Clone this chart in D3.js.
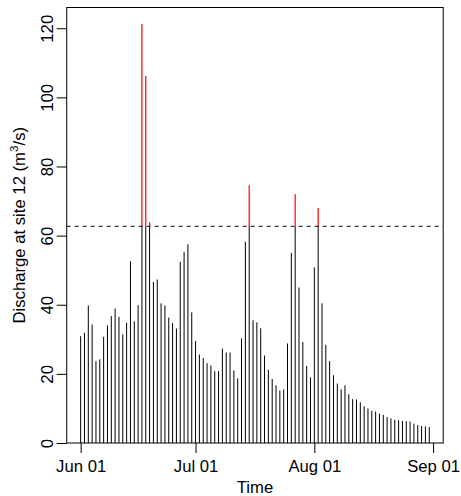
<!DOCTYPE html>
<html>
<head>
<meta charset="utf-8">
<script src="https://cdn.jsdelivr.net/npm/d3@7"></script>
<style>
  html, body { margin: 0; padding: 0; background: #fff; }
  text { font-family: "Liberation Sans", Arial, sans-serif; fill: #000; }
</style>
</head>
<body>
<svg id="chart" width="461" height="496"></svg>
<script>
// Daily discharge Jun 01 .. Aug 31
const startDate = "2000-06-01";
const juneValues = [30.9, 31.9, 39.8, 34.3, 23.7, 24.2, 30.7, 34.0, 36.7, 38.9,
                    36.5, 31.4, 34.8, 52.6, 35.2, 39.9, 121.2, 106.2, 63.9, 46.6,
                    47.3, 40.4, 39.8, 36.3, 34.7, 33.1, 52.4, 55.3, 57.5, 37.8];
const julyValues = [29.5, 25.6, 24.6, 23.1, 22.4, 20.8, 20.8, 27.3, 26.2, 26.2,
                    21.0, 18.7, 30.3, 58.2, 74.6, 35.5, 34.9, 33.2, 25.3, 21.2,
                    18.5, 16.7, 15.2, 15.5, 28.8, 55.0, 72.0, 45.0, 29.2, 22.3, 19.0];
const augustValues = [50.8, 68.0, 40.4, 28.4, 23.7, 19.6, 17.2, 15.5, 16.7, 14.1,
                      12.7, 12.6, 11.8, 10.6, 10.0, 9.3, 9.1, 8.5, 8.1, 7.5,
                      7.1, 6.7, 6.6, 6.4, 6.3, 6.2, 5.6, 5.2, 4.9, 4.8, 4.6];
const threshold = 62.7;
const yTicks = [0, 20, 40, 60, 80, 100, 120];
const xTickDates = ["2000-06-01", "2000-07-01", "2000-08-01", "2000-09-01"];
const xTickLabels = ["Jun 01", "Jul 01", "Aug 01", "Sep 01"];
const yMax = 126;

(function () {
const parse = d3.utcParse("%Y-%m-%d");
const values = juneValues.concat(julyValues, augustValues);
const t0 = parse(startDate);
const data = values.map((v, i) => ({ date: d3.utcDay.offset(t0, i), value: v }));

const svg = d3.select("#chart");
svg.append("rect").attr("width", 461).attr("height", 496).attr("fill", "#fff");

const pL = 66.7, pR = 443.2, pT = 7.5, pB = 443;
const dMin = data[0].date, dMax = data[data.length - 1].date;
const pad = 0.04 * (dMax - dMin);
const x = d3.scaleUtc()
  .domain([new Date(+dMin - pad), new Date(+dMax + pad)])
  .range([pL, pR]);
const y = d3.scaleLinear().domain([0, yMax]).range([pB, pT]);

// bars (type = "h")
const g = svg.append("g");
g.selectAll("line.bar").data(data).join("line")
  .attr("class", "bar")
  .attr("x1", d => x(d.date)).attr("x2", d => x(d.date))
  .attr("y1", y(0)).attr("y2", d => y(Math.min(d.value, threshold)))
  .attr("stroke", "#000").attr("stroke-width", 1);
g.selectAll("line.exceed").data(data.filter(d => d.value > threshold)).join("line")
  .attr("class", "exceed")
  .attr("x1", d => x(d.date)).attr("x2", d => x(d.date))
  .attr("y1", y(threshold)).attr("y2", d => y(d.value))
  .attr("stroke", "#ff0000").attr("stroke-width", 1.2);

// threshold
svg.append("line")
  .attr("x1", pL).attr("x2", pR)
  .attr("y1", y(threshold)).attr("y2", y(threshold))
  .attr("stroke", "#000").attr("stroke-width", 1)
  .attr("stroke-dasharray", "4,4");

// box
svg.append("rect")
  .attr("x", pL).attr("y", pT)
  .attr("width", pR - pL).attr("height", pB - pT)
  .attr("fill", "none").attr("stroke", "#000").attr("stroke-width", 1);

// x axis
const xAxis = d3.axisBottom(x)
  .tickValues(xTickDates.map(parse))
  .tickFormat((d, i) => xTickLabels[i])
  .tickSize(10).tickPadding(4);
const gx = svg.append("g").attr("transform", `translate(0,${pB})`).call(xAxis);
gx.select(".domain").remove();
gx.selectAll("line").attr("stroke", "#000");
gx.selectAll("text").attr("font-size", 16.7).attr("fill", "#000")
  .attr("font-family", "Liberation Sans, Arial, sans-serif")
  .attr("dy", null).attr("y", 28.5);

// y axis
const yAxis = d3.axisLeft(y).tickValues(yTicks).tickSize(10).tickFormat(d3.format("d"));
const gy = svg.append("g").attr("transform", `translate(${pL},0)`).call(yAxis);
gy.select(".domain").remove();
gy.selectAll("line").attr("stroke", "#000");
gy.selectAll("text")
  .attr("font-size", 16.7).attr("fill", "#000")
  .attr("font-family", "Liberation Sans, Arial, sans-serif")
  .attr("x", null).attr("dy", null)
  .attr("text-anchor", "middle")
  .attr("transform", "translate(-14,0) rotate(-90)");

// axis titles
svg.append("text")
  .attr("x", (pL + pR) / 2).attr("y", 493)
  .attr("text-anchor", "middle").attr("font-size", 16.7)
  .text("Time");

const yl = svg.append("text")
  .attr("transform", `translate(24.7,${(pT + pB) / 2}) rotate(-90)`)
  .attr("text-anchor", "middle").attr("font-size", 16.7);
yl.append("tspan").text("Discharge at site 12 (m");
yl.append("tspan").attr("font-size", 11.7).attr("dy", -7).text("3");
yl.append("tspan").attr("dy", 7).text("/s)");
})();
</script>
</body>
</html>
